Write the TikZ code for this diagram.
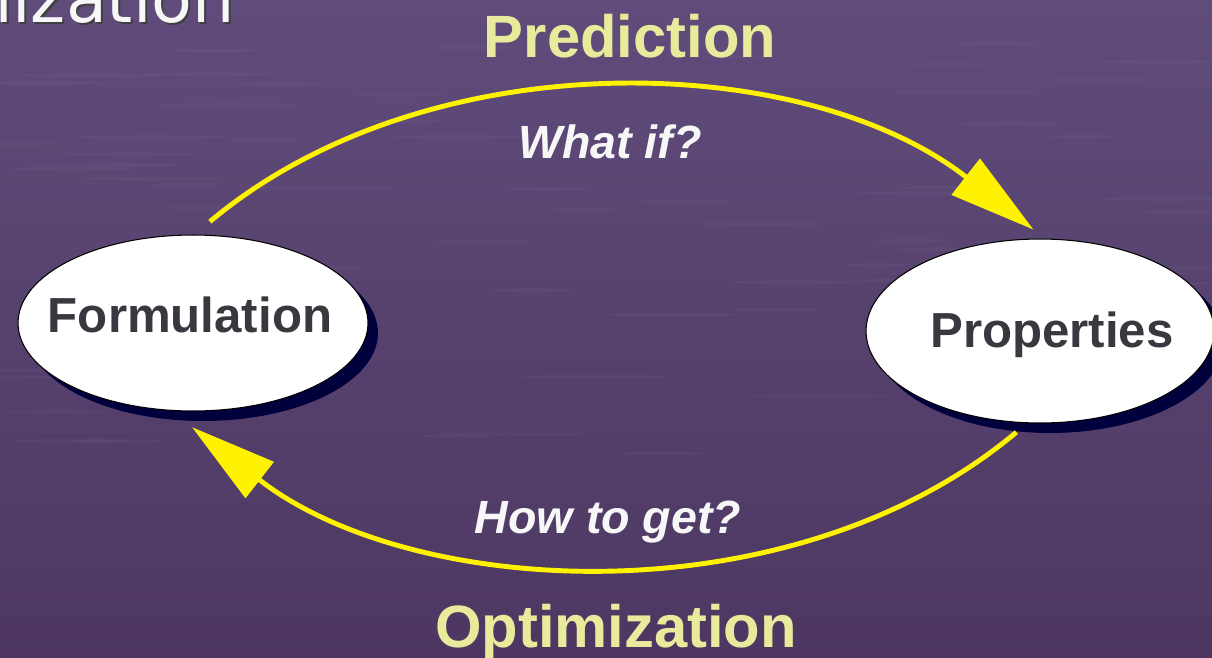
\documentclass[tikz,border=0pt]{standalone}
\usepackage{fontspec}
\setmainfont{Liberation Sans}
\newfontfamily\headfont{DejaVu Sans}
\usetikzlibrary{arrows.meta,shapes.geometric,shadows}

\definecolor{bgtop}{HTML}{604C7B}
\definecolor{bgmid}{HTML}{533D6A}
\definecolor{bgbot}{HTML}{4D3762}
\definecolor{phaseyellow}{HTML}{E8EA9C}
\definecolor{navyshade}{HTML}{00003C}
\definecolor{statetext}{HTML}{3A383F}

\tikzset{
  state/.style={ellipse, draw=black, line width=0.6pt, fill=white, inner sep=0pt,
    drop shadow={shadow xshift=0.2cm, shadow yshift=-0.2cm, fill=navyshade, opacity=1}},
  statelabel/.style={text=statetext, font=\bfseries\fontsize{28}{30}\selectfont},
  cycle/.style={draw=yellow, line width=2.8pt,
    -{Triangle[length=1.72cm, width=0.9cm]}},
  phase/.style={text=phaseyellow, font=\bfseries\fontsize{34}{36}\selectfont},
  question/.style={text=white!97!black, font=\bfseries\itshape\fontsize{26.5}{28}\selectfont},
  headline/.style={anchor=base east, font=\headfont\fontsize{38}{40}\selectfont},
}

\begin{document}
\begin{tikzpicture}[x=0.02cm, y=0.02cm]
  \useasboundingbox (0,0) rectangle (1212,657);
  \clip (0,0) rectangle (1212,657);
  \shade[top color=bgtop, middle color=bgmid, bottom color=bgbot] (0,0) rectangle (1212,657);

  % faint ripples on the backdrop
  \pgfmathsetseed{7}
  \foreach \i in {1,...,70}
    \fill[white, opacity=0.028] (1212*rnd, 200+420*rnd) ellipse ({30+50*rnd} and 2);

  % slide title, cut by the page edge
  \node[headline, text=black!75] (titleshadow) at (243,632) {nization};
  \node[headline, text=white!97!black] (title) at (241,634) {nization};

  \node[state, minimum width=7cm, minimum height=3.52cm] (form) at (193,334) {};
  \node[statelabel, anchor=base] (formtext) at (190,325) {Formulation};
  \node[state, minimum width=6.96cm, minimum height=3.68cm] (prop) at (1040,326) {};
  \node[statelabel, anchor=base] (proptext) at (1052,310) {Properties};

  \draw[cycle, shorten <=0.4cm, shorten >=0.29cm]
    (form.89) .. controls +(40:305) and +(142:305) .. (prop.87);
  \draw[cycle, shorten <=0.28cm, shorten >=0.53cm]
    (prop.262) .. controls +(220:306) and +(322:306) .. (form.256);

  \node[phase, anchor=base] (pred) at (630,599) {Prediction};
  \node[question, anchor=base] (whatif) at (610,499) {What if?};
  \node[question, anchor=base] (howto) at (608,124) {How to get?};
  \node[phase, anchor=base] (opt) at (616,10) {Optimization};
\end{tikzpicture}
\end{document}
